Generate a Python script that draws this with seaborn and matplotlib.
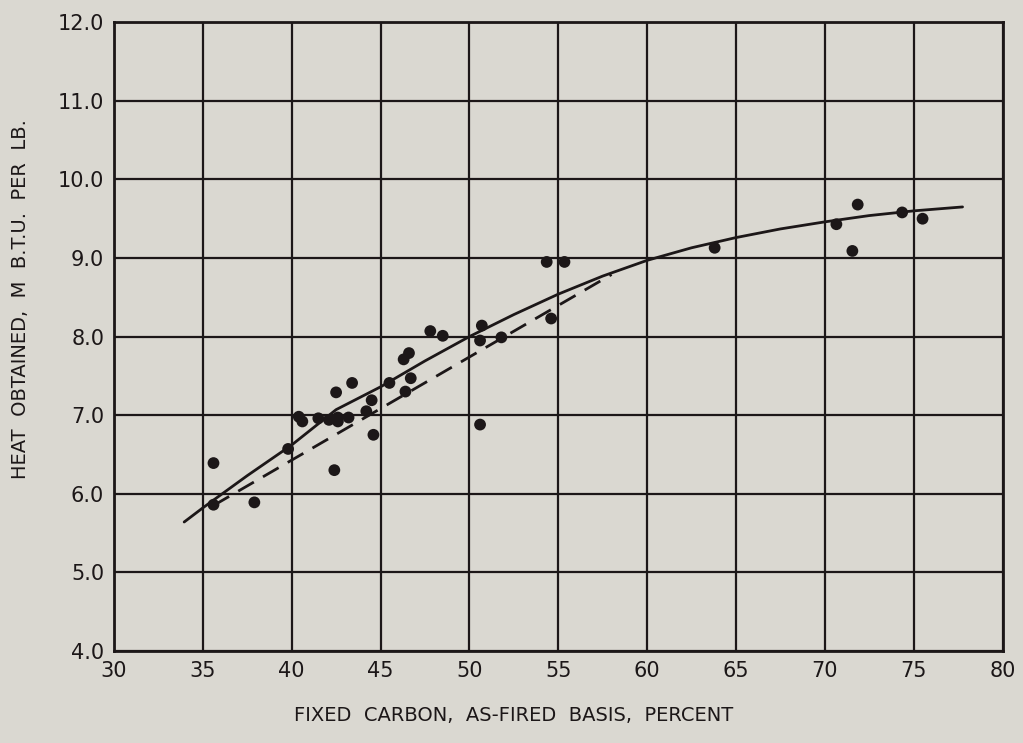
import matplotlib
matplotlib.use("Agg")
import matplotlib.pyplot as plt
import seaborn as sns
import pandas as pd

# Observed points: fixed carbon (%) vs heat obtained (M B.T.U. per lb.)
carbon = [35.6, 35.6, 37.9, 39.8, 40.4, 40.6, 41.5, 42.1, 42.6, 42.6, 43.2,
          42.5, 43.4, 42.4, 44.6, 44.2, 44.5, 45.5, 46.4, 46.7, 46.3, 46.6,
          47.8, 48.5, 50.7, 50.6, 51.8, 50.6, 54.35, 55.35, 54.6, 63.8,
          70.65, 71.85, 71.55, 74.35, 75.5]
heat = [6.39, 5.86, 5.89, 6.57, 6.98, 6.92, 6.96, 6.94, 6.97, 6.92, 6.97,
        7.29, 7.41, 6.30, 6.75, 7.05, 7.19, 7.41, 7.30, 7.47, 7.71, 7.79,
        8.07, 8.01, 8.14, 7.95, 7.99, 6.88, 8.95, 8.95, 8.23, 9.13,
        9.43, 9.68, 9.09, 9.58, 9.50]

# Solid curve
curve_x = [33.95, 35.0, 37.5, 40.0, 42.5, 45.0, 47.5, 50.0, 52.5, 55.0,
           57.5, 60.0, 62.5, 65.0, 67.5, 70.0, 72.5, 75.0, 77.75]
curve_y = [5.64, 5.82, 6.23, 6.62, 7.07, 7.36, 7.69, 8.00, 8.28, 8.54,
           8.77, 8.97, 9.13, 9.26, 9.37, 9.46, 9.54, 9.60, 9.65]

# Dashed line
dash_x = [35.6, 58.0]
dash_y = [5.85, 8.79]

x_ticks = [30, 35, 40, 45, 50, 55, 60, 65, 70, 75, 80]
y_ticks = [4.0, 5.0, 6.0, 7.0, 8.0, 9.0, 10.0, 11.0, 12.0]
y_tick_labels = ["4.0", "5.0", "6.0", "7.0", "8.0", "9.0", "10.0", "11.0", "12.0"]

x_label = "FIXED  CARBON,  AS-FIRED  BASIS,  PERCENT"
y_label = "HEAT  OBTAINED,  M  B.T.U.  PER  LB."

bg = "#dad8d1"
ink = "#1c1718"

sns.set_theme(style="white")
plt.rcParams["font.family"] = ["DejaVu Sans"]

fig = plt.figure(figsize=(10.23, 7.43), dpi=100, facecolor=bg)
ax = fig.add_axes([0.1114, 0.124, 0.8686, 0.846])
ax.set_facecolor(bg)

pts = pd.DataFrame({"carbon": carbon, "heat": heat})
crv = pd.DataFrame({"x": curve_x, "y": curve_y})
dsh = pd.DataFrame({"x": dash_x, "y": dash_y})

sns.lineplot(data=crv, x="x", y="y", ax=ax, color=ink, lw=2.0, sort=False,
             zorder=3)
sns.lineplot(data=dsh, x="x", y="y", ax=ax, color=ink, lw=2.0, sort=False,
             zorder=3)
ax.lines[-1].set_dashes([6.5, 3.8])
sns.scatterplot(data=pts, x="carbon", y="heat", ax=ax, color=ink, s=72,
                edgecolor="none", zorder=4)

ax.set_xlim(30, 80)
ax.set_ylim(4.0, 12.0)
ax.set_xticks(x_ticks)
ax.set_yticks(y_ticks)
ax.set_yticklabels(y_tick_labels)
ax.grid(True, color=ink, lw=1.6)
ax.set_axisbelow(True)
for s in ax.spines.values():
    s.set_color(ink)
    s.set_linewidth(2.0)
ax.tick_params(axis="both", length=0, labelsize=15, colors=ink, pad=7)

ax.set_xlabel(x_label, fontsize=14, color=ink)
ax.set_ylabel(y_label, fontsize=14, color=ink)
ax.xaxis.set_label_coords(0.45, -0.088)
ax.yaxis.set_label_coords(-0.095, 0.56)

fig.savefig("out.png", dpi=100, facecolor=bg)
